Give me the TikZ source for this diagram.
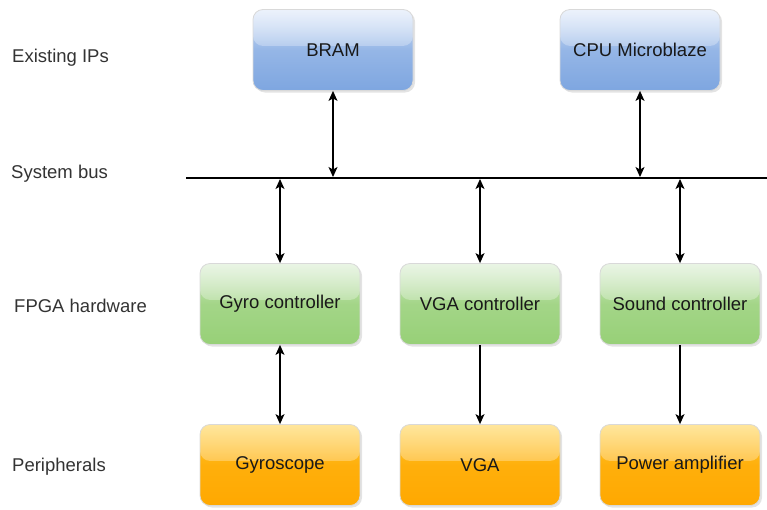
\documentclass[tikz,border=0pt]{standalone}
\usepackage{fontspec}
\setmainfont{Liberation Sans}
\usetikzlibrary{arrows.meta,shadows,calc,fadings}
\definecolor{bluetop}{HTML}{DAE6F9}
\definecolor{bluebot}{HTML}{7EA6E0}
\definecolor{greentop}{HTML}{D5EBCB}
\definecolor{greenbot}{HTML}{97D077}
\definecolor{orangetop}{HTML}{FFCD3A}
\definecolor{orangebot}{HTML}{FFA800}
\definecolor{labelgray}{HTML}{333333}
\tikzset{
  box/.style={rounded corners=10pt, minimum width=160pt, minimum height=81pt,
    draw=gray!30, line width=0.8pt, font=\fontsize{18.5}{22}\selectfont, text=black!90,
    drop shadow={shadow xshift=2pt, shadow yshift=-2pt, opacity=0.22, fill=gray},
    path picture={\fill[white,opacity=0.5,path fading=south]
      (path picture bounding box.north west) rectangle
      ($(path picture bounding box.north east)!0.45!(path picture bounding box.south east)$);}},
  bluebox/.style={box, top color=bluetop, bottom color=bluebot, middle color=bluebot!75!bluetop},
  greenbox/.style={box, top color=greentop, bottom color=greenbot, middle color=greenbot!80!greentop},
  orangebox/.style={box, top color=orangetop, bottom color=orangebot, middle color=orangebot!80!orangetop},
  rowlabel/.style={anchor=west, font=\fontsize{18.5}{22}\selectfont, text=labelgray, inner sep=0pt},
  link/.style={line width=1.2pt, -{Stealth[length=10pt,width=9pt,inset=2.5pt]}},
  blink/.style={line width=1.2pt, {Stealth[length=10pt,width=9pt,inset=2.5pt]}-{Stealth[length=10pt,width=9pt,inset=2.5pt]}}
}
\begin{document}
\begin{tikzpicture}[x=1pt,y=-1pt]
\useasboundingbox (0,0) rectangle (767,509);
% row labels
\node[rowlabel] (l1) at (12,58) {Existing IPs};
\node[rowlabel] (l2) at (11,174) {System bus};
\node[rowlabel] (l3) at (14,306) {FPGA hardware};
\node[rowlabel] (l4) at (12,467) {Peripherals};
% bus
\coordinate (busL) at (186,178);
\coordinate (busR) at (767,178);
\draw[line width=2.2pt] (busL) -- (busR);
% boxes
\node[bluebox] (bram) at (333,50) {BRAM};
\node[bluebox] (cpu) at (640,50) {CPU Microblaze};
\node[greenbox] (gyroc) at (280,304) {Gyro controller};
\node[greenbox] (vgac) at (480,304) {VGA controller};
\node[greenbox] (soundc) at (680,304) {Sound controller};
\node[orangebox] (gyro) at (280,465) {Gyroscope};
\node[orangebox] (vga) at (480,465) {VGA};
\node[orangebox] (amp) at (680,465) {Power amplifier};
% bus taps
\coordinate (b1) at (333,177);
\coordinate (b2) at (640,177);
\coordinate (b3) at (280,179);
\coordinate (b4) at (480,179);
\coordinate (b5) at (680,179);
% connectors
\draw[blink] (bram.south) -- (b1);
\draw[blink] (cpu.south) -- (b2);
\draw[blink] (b3) -- (gyroc.north);
\draw[blink] (b4) -- (vgac.north);
\draw[blink] (b5) -- (soundc.north);
\draw[blink] (gyroc.south) -- (gyro.north);
\draw[link] (vgac.south) -- (vga.north);
\draw[link] (soundc.south) -- (amp.north);
\end{tikzpicture}
\end{document}
